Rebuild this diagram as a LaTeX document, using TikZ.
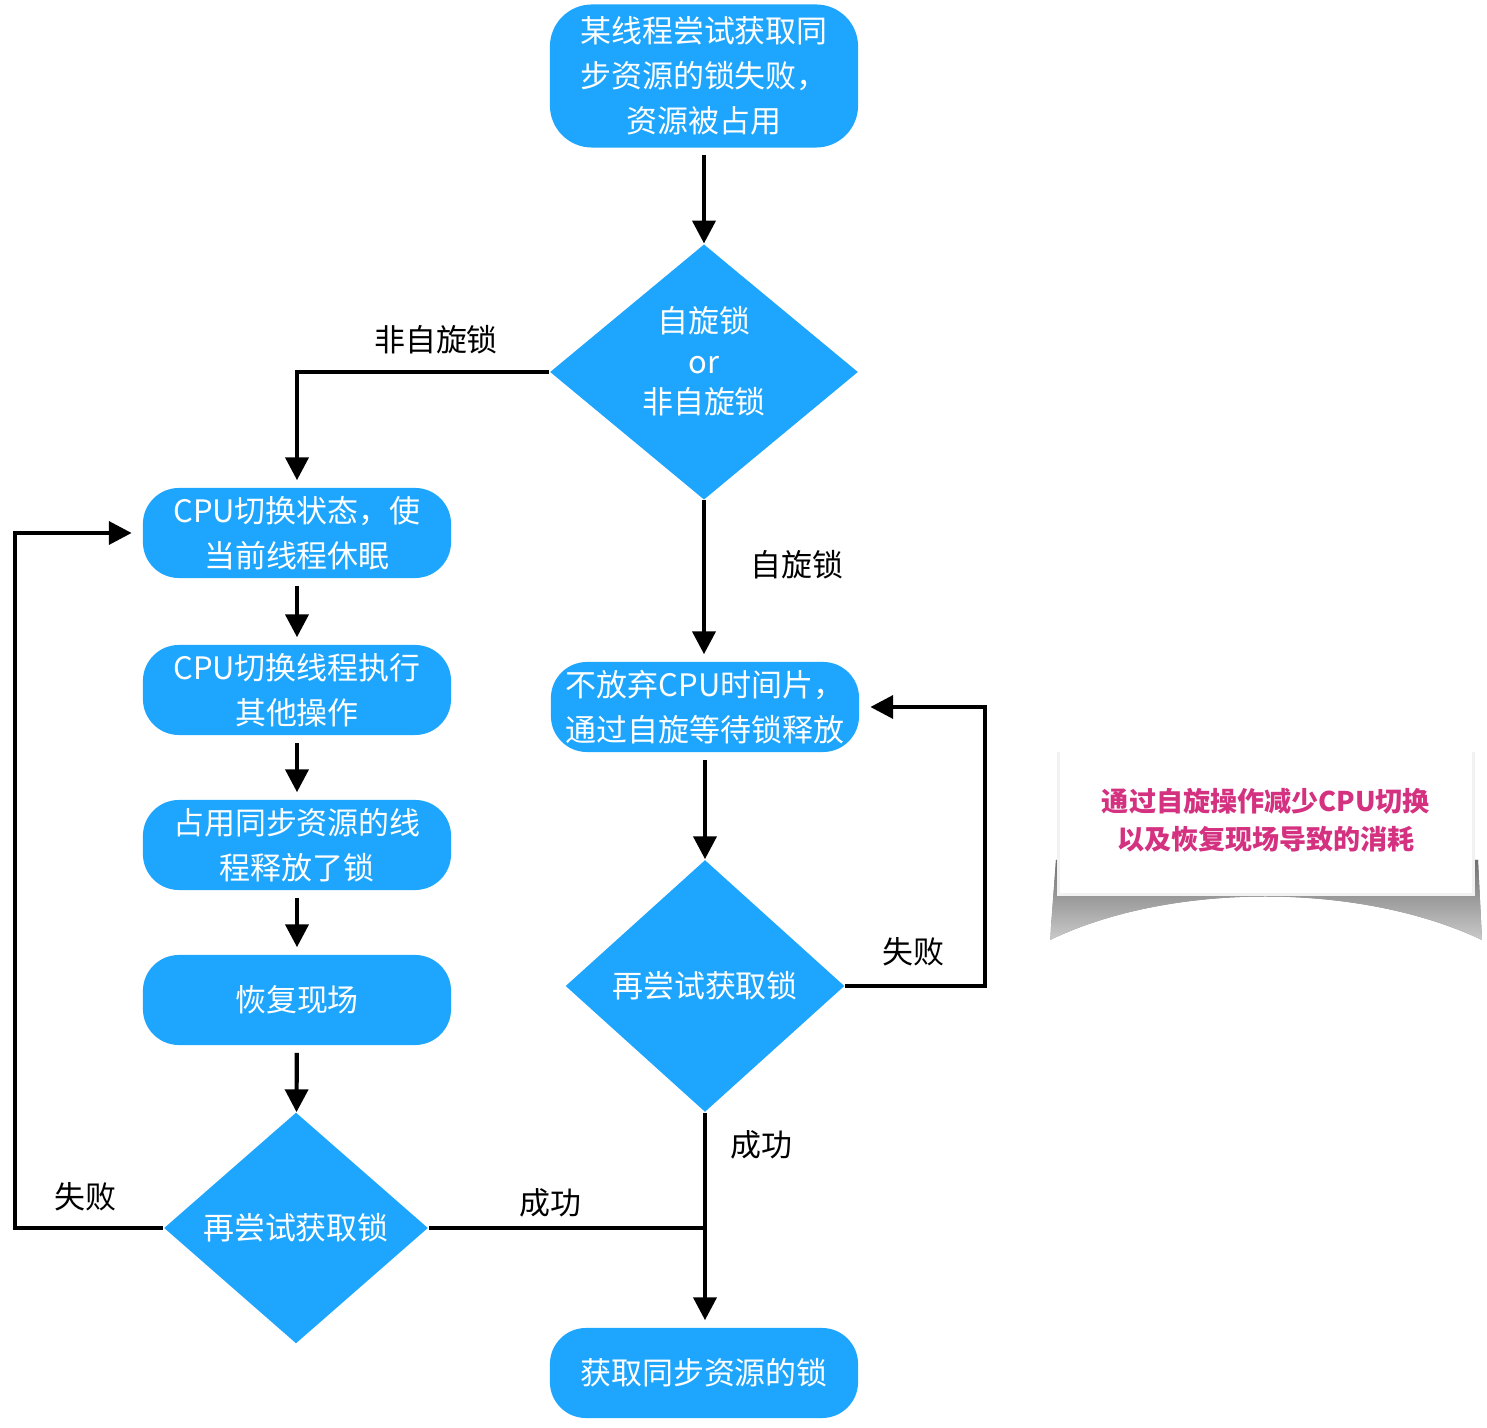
\documentclass[tikz,border=0pt]{standalone}
\usepackage{fontspec}
\newfontfamily\cjk{Noto Sans CJK SC}
\usetikzlibrary{shapes.geometric,arrows.meta}
\definecolor{flowblue}{RGB}{30,166,254}
\definecolor{notepink}{RGB}{212,50,128}
\newcommand{\boxfont}{\cjk\fontsize{8.8}{12.8}\selectfont}
\tikzset{
  procbox/.style={fill=flowblue, text=white, rounded corners=0.36cm,
    minimum width=3.08cm, minimum height=0.9cm, align=center, inner sep=0pt,
    font=\boxfont},
  decision/.style={diamond, fill=flowblue, text=white, align=center,
    inner sep=0pt, font=\boxfont},
  flowline/.style={line width=1.2pt, -{Triangle[length=6.5pt,width=6.5pt]}},
  plainline/.style={line width=1.2pt},
  lbl/.style={font=\boxfont, text=black},
}
\begin{document}
\begin{tikzpicture}[x=0.01cm,y=-0.01cm]
      \useasboundingbox (0,0) rectangle (1487,1428);

      % main column
      \node[procbox, minimum height=1.43cm, rounded corners=0.42cm] (fail) at (704,76)
        {某线程尝试获取同\\步资源的锁失败，\\资源被占用};
      \node[decision, minimum width=3.08cm, minimum height=2.53cm, text depth=0.24cm,
        font=\cjk\fontsize{8.8}{11.6}\selectfont] (kind) at (704,372)
        {自旋锁\\or\\非自旋锁};

      % left branch: non-spin lock
      \node[procbox] (sleep) at (297,533) {CPU切换状态，使\\当前线程休眠};
      \node[procbox] (other) at (297,690) {CPU切换线程执行\\其他操作};
      \node[procbox] (release) at (297,845) {占用同步资源的线\\程释放了锁};
      \node[procbox] (restore) at (297,1000) {恢复现场};
      \node[decision, minimum width=2.64cm, minimum height=2.31cm] (retryL) at (296,1228) {再尝试获取锁};

      % right branch: spin lock
      \node[procbox] (spinwait) at (705,707) {不放弃CPU时间片，\\通过自旋等待锁释放};
      \node[decision, minimum width=2.79cm, minimum height=2.52cm] (retryR) at (705,986) {再尝试获取锁};

      \node[procbox] (got) at (704,1373) {获取同步资源的锁};

      \coordinate (loopL) at (15,1228);
      \coordinate (loopR) at (985,986);
      \coordinate (join) at (retryR.south |- retryL.east);

      \draw[flowline, shorten <=2pt] (fail) -- (kind);
      \draw[flowline, shorten >=2pt] (kind.west) -| (sleep.north);
      \draw[flowline, shorten >=2pt] (kind.south) -- (kind.south |- spinwait.north);
      \draw[flowline, shorten <=2pt, shorten >=2pt] (sleep) -- (other);
      \draw[flowline, shorten <=2pt, shorten >=2pt] (other) -- (release);
      \draw[flowline, shorten <=2pt, shorten >=2pt] (release) -- (restore);
      \draw[flowline, shorten <=2pt] (restore) -- (retryL);
      \draw[flowline, shorten <=2pt] (spinwait) -- (retryR);
      \draw[flowline, shorten >=3pt] (retryL.west) -- (loopL) |- (sleep.west);
      \draw[flowline, shorten >=3pt] (retryR.east) -- (loopR) |- (spinwait.east);
      \draw[plainline] (retryL.east) -- (join);
      \draw[flowline, shorten >=2pt] (retryR.south) -- (retryR.south |- got.north);

      \node[lbl] (lnospin) at (436,340) {非自旋锁};
      \node[lbl] (lspin) at (797,565) {自旋锁};
      \node[lbl] (lfailR) at (913,952) {失败};
      \node[lbl] (lokR) at (761,1145) {成功};
      \node[lbl] (lfailL) at (85,1197) {失败};
      \node[lbl] (lokL) at (550,1203) {成功};

      % note with curled shadow
      \fill[top color=black!50, bottom color=white, opacity=0.7]
        (1056,860) -- (1478,860) -- (1482,940)
        .. controls (1360,882) and (1170,882) .. (1050,940) -- cycle;
      \fill[black!5] (1057,752) rectangle (1475,896);
      \node[fill=white, minimum width=4.12cm, minimum height=1.45cm, align=center,
        text=notepink, font=\cjk\bfseries\fontsize{7.7}{10.8}\selectfont] (note) at (1266,820)
        {通过自旋操作减少CPU切换\\以及恢复现场导致的消耗};
    \end{tikzpicture}
\end{document}
